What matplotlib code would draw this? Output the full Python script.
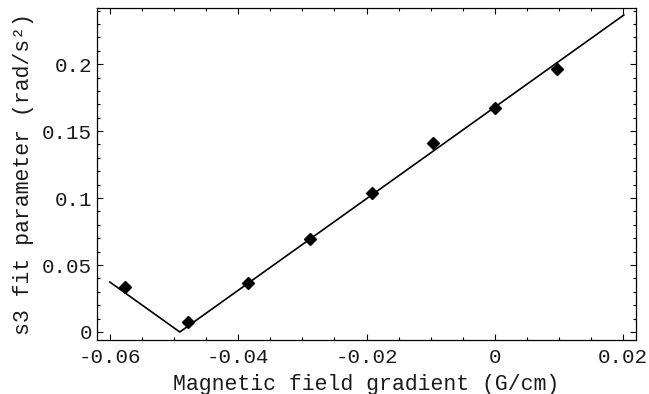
import numpy as np
import matplotlib.pyplot as plt
from matplotlib.ticker import MultipleLocator

plt.rcParams['font.family'] = ['Liberation Mono', 'DejaVu Sans Mono']
plt.rcParams['axes.unicode_minus'] = False

# measured s3 values vs applied gradient
gradient = [-0.0577, -0.0478, -0.0385, -0.0288, -0.0192, -0.0096, 0.0, 0.0097]
s3 = [0.0336, 0.0075, 0.0366, 0.0694, 0.1037, 0.141, 0.167, 0.196]

# fitted V-shaped model |a (x - x0)|
fit_slope = 3.42
fit_zero = -0.0491
fit_range = [-0.060, 0.0201]

xticks = [-0.06, -0.04, -0.02, 0, 0.02]
xtick_labels = ['-0.06', '-0.04', '-0.02', '0', '0.02']
yticks = [0, 0.05, 0.1, 0.15, 0.2]
ytick_labels = ['0', '0.05', '0.1', '0.15', '0.2']

fig = plt.figure(figsize=(6.49, 3.94), dpi=100)
ax = fig.add_axes([0.1495, 0.137, 0.8305, 0.843])

xfit = np.array([fit_range[0], fit_zero, fit_range[1]])
ax.plot(xfit, np.abs(fit_slope * (xfit - fit_zero)), color='black', lw=1.2)
ax.plot(gradient, s3, 'D', color='black', ms=6.5)

ax.set_xlim(-0.062, 0.022)
ax.set_ylim(-0.006, 0.242)
ax.set_xticks(xticks)
ax.set_xticklabels(xtick_labels)
ax.set_yticks(yticks)
ax.set_yticklabels(ytick_labels)
ax.xaxis.set_minor_locator(MultipleLocator(0.005))
ax.yaxis.set_minor_locator(MultipleLocator(0.01))
ax.tick_params(which='both', direction='in', top=True, right=True,
               labelsize=15, width=0.8, labelcolor='#1a1a1a')
ax.tick_params(axis='x', which='major', pad=6)
ax.tick_params(which='major', length=4)
ax.tick_params(which='minor', length=2)
for s in ax.spines.values():
    s.set_linewidth(0.9)

ax.set_xlabel('Magnetic field gradient (G/cm)', fontsize=15.5, labelpad=5,
              color='#1a1a1a')
ax.set_ylabel('s3 fit parameter (rad/s²)', fontsize=15.5, labelpad=6,
              color='#1a1a1a')

fig.savefig('out.png', dpi=100)
